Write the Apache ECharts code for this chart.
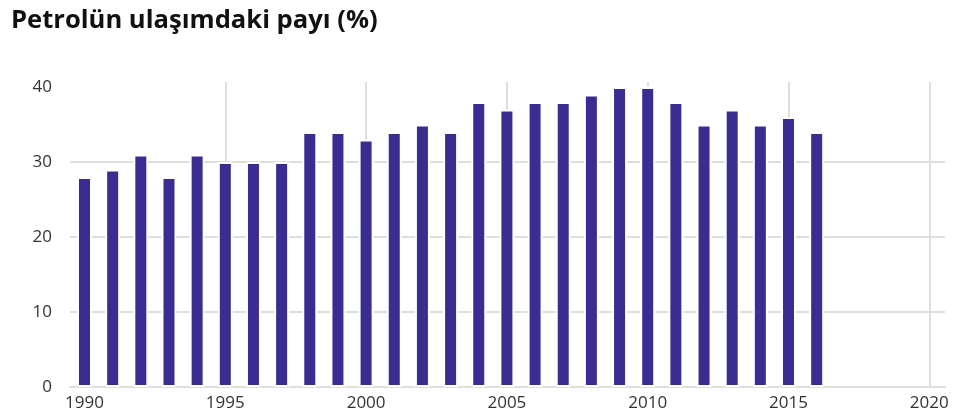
<!DOCTYPE html>
<html>
<head>
<meta charset="utf-8">
<script src="https://cdn.jsdelivr.net/npm/echarts@6/dist/echarts.min.js"></script>
<style>
  html, body { margin: 0; padding: 0; background: #fff; }
  #chart { width: 964px; height: 419px; }
</style>
</head>
<body>
<div id="chart"></div>
<script>
// Share of oil in transport, by year (%)
const years = [1990, 1991, 1992, 1993, 1994, 1995, 1996, 1997, 1998, 1999,
               2000, 2001, 2002, 2003, 2004, 2005, 2006, 2007, 2008, 2009,
               2010, 2011, 2012, 2013, 2014, 2015, 2016];
const shares = [28, 29, 31, 28, 31, 30, 30, 30, 34, 34,
                33, 34, 35, 34, 38, 37, 38, 38, 39, 40,
                40, 38, 35, 37, 35, 36, 34];
const titleText = 'Petrolün ulaşımdaki payı (%)';
const yTicks = { min: 0, max: 40, step: 10 };
const xTicks = { min: 1990, max: 2020, step: 5 };

const FONT = '"Open Sans", "Noto Sans", sans-serif';
const RULE = { color: '#dedede', width: 2 };
const chart = echarts.init(document.getElementById('chart'), null, { renderer: 'canvas' });

chart.setOption({
  animation: false,
  backgroundColor: '#ffffff',
  title: {
    text: titleText,
    left: 6,
    top: 3,
    textStyle: { fontFamily: FONT, fontWeight: 'bold', fontSize: 25.6, color: '#111111' }
  },
  grid: [
    // plot area holding the bars, the value axis and the horizontal rules
    { left: 70, right: 19, top: 87, bottom: 32 },
    // year axis with its vertical rules
    { left: 84.5, right: 34.7, top: 82, bottom: 32 }
  ],
  xAxis: [
    {
      type: 'value', gridIndex: 0,
      min: 1989.485, max: 2020.557,
      axisLine: { show: true, lineStyle: RULE },
      axisTick: { show: false },
      axisLabel: { show: false },
      splitLine: { show: false }
    },
    {
      type: 'value', gridIndex: 1,
      min: xTicks.min, max: xTicks.max, interval: xTicks.step,
      axisLine: { show: false },
      axisTick: { show: false },
      axisLabel: {
        fontFamily: FONT, fontSize: 17, color: '#333333', margin: 8,
        formatter: v => String(v)
      },
      splitLine: { show: true, showMinLine: false, lineStyle: RULE }
    }
  ],
  yAxis: [
    {
      type: 'value', gridIndex: 0,
      min: yTicks.min, max: yTicks.max, interval: yTicks.step,
      axisLine: { show: false },
      axisTick: { show: false },
      axisLabel: { fontFamily: FONT, fontSize: 17, color: '#333333', margin: 18 },
      splitLine: { show: true, showMaxLine: false, lineStyle: RULE }
    },
    {
      type: 'value', gridIndex: 1, min: 0, max: 1,
      show: false
    }
  ],
  series: [
    {
      type: 'bar',
      xAxisIndex: 0, yAxisIndex: 0,
      data: years.map((y, i) => [y, shares[i]]),
      barWidth: 15,
      itemStyle: { color: '#3a2d91', borderColor: '#ffffff', borderWidth: 2 },
      z: 3
    }
  ]
});
</script>
</body>
</html>
